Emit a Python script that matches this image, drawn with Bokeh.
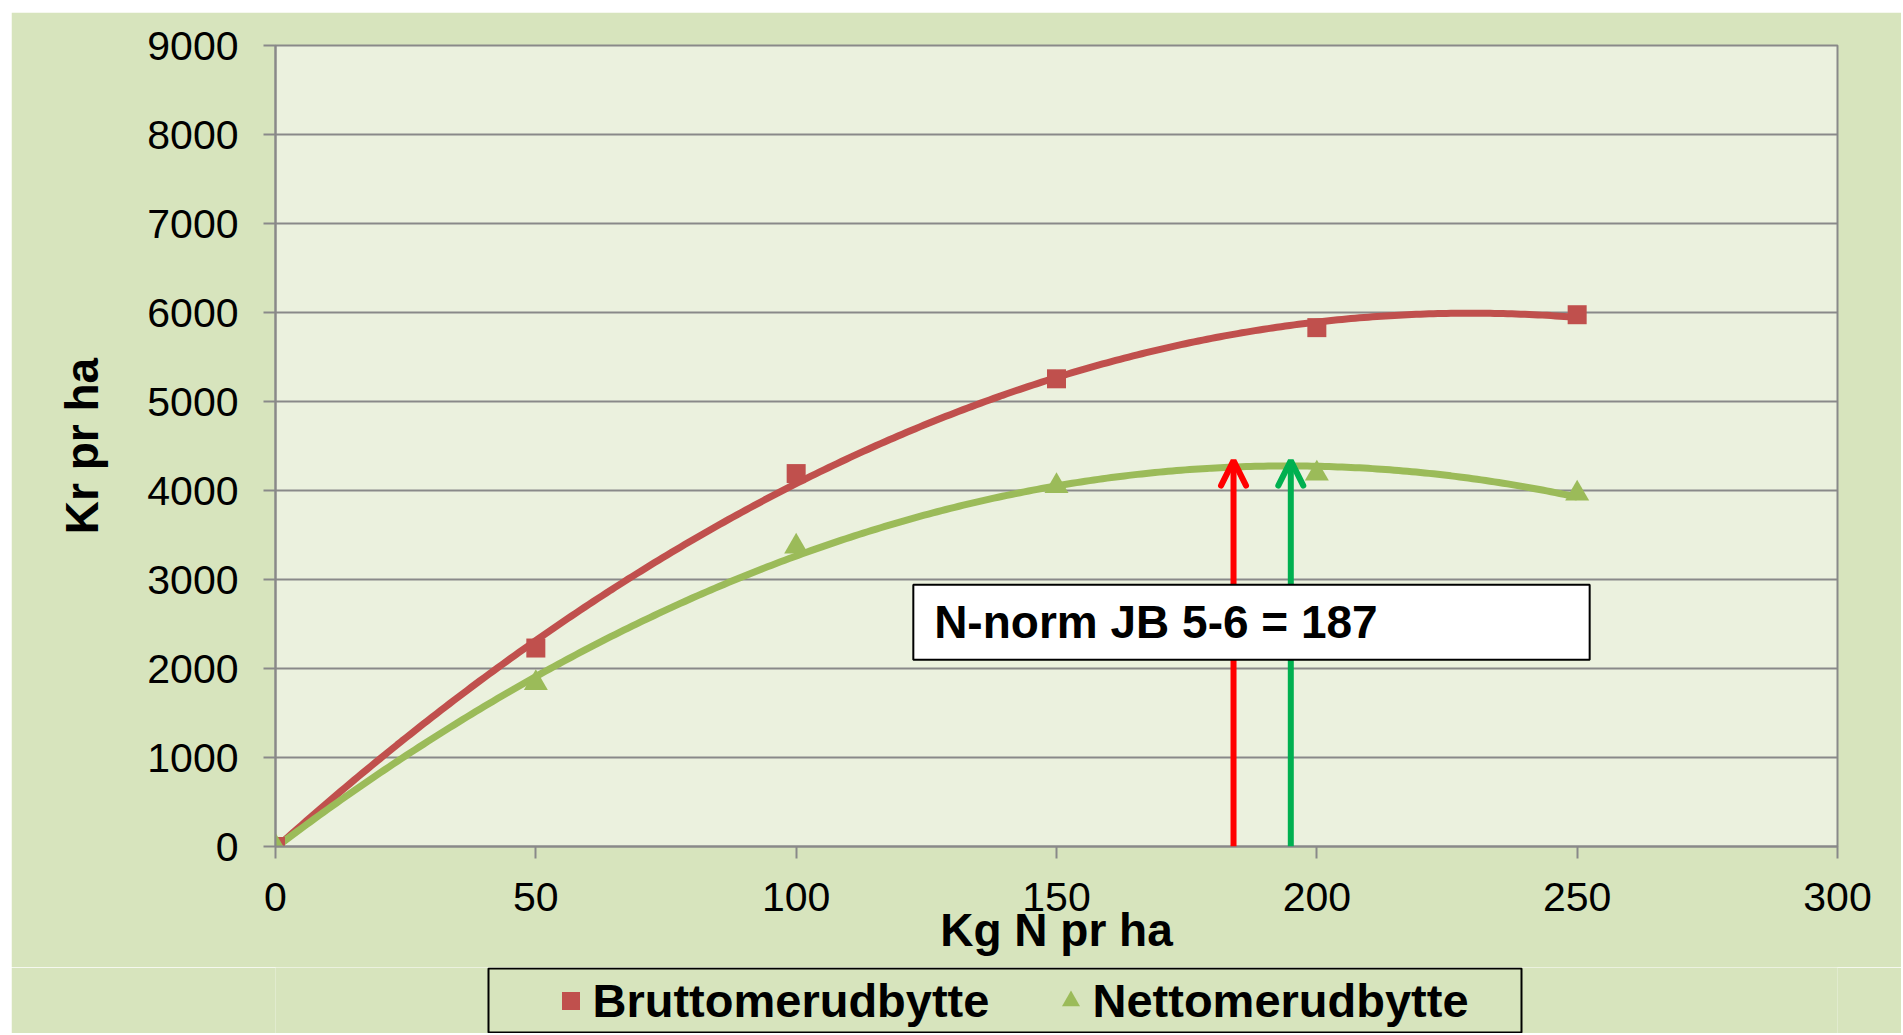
import numpy as np
from bokeh.plotting import figure
from bokeh.layouts import column
from bokeh.models import (ColumnDataSource, FixedTicker, Range1d, Legend, LegendItem,
                          Arrow, OpenHead, BoxAnnotation, Label)
from bokeh.embed import file_html
from bokeh.resources import INLINE

# ---------------- data ----------------
n_kg = [0, 50, 100, 150, 200, 250]                 # Kg N pr ha
brutto = [0, 2230, 4190, 5255, 5830, 5975]         # Bruttomerudbytte (Kr pr ha)
netto = [0, 1835, 3370, 4050, 4190, 3965]          # Nettomerudbytte (Kr pr ha)
series_names = ["Bruttomerudbytte", "Nettomerudbytte"]
x_ticks = [0, 50, 100, 150, 200, 250, 300]
y_ticks = [0, 1000, 2000, 3000, 4000, 5000, 6000, 7000, 8000, 9000]
optimum_n = [184, 195]          # arrows (red, green)
arrow_top = [4335, 4335]
annotation_text = "N-norm JB 5-6 = 187"
x_title = "Kg N pr ha"
y_title = "Kr pr ha"

# ---------------- styles ----------------
RED = "#C0504D"
GREEN = "#9BBB59"
ARROW_COLORS = ["#FF0000", "#00B050"]
OUTER = "#D7E4BD"
INNER = "#EBF1DE"
GRID = "#898989"
FONT = "Liberation Sans"

# polynomial (order 2) trendlines fitted to the data, like the spreadsheet trendline
fit_x = np.linspace(min(n_kg), max(n_kg), 300)
fit_b = np.polyval(np.polyfit(n_kg, brutto, 2), fit_x)
fit_n = np.polyval(np.polyfit(n_kg, netto, 2), fit_x)
trend = ColumnDataSource(dict(x=fit_x, b=fit_b, n=fit_n))
pts = ColumnDataSource(dict(x=n_kg, b=brutto, n=netto))

p = figure(width=1890, height=955, output_backend="svg", toolbar_location=None,
           x_range=Range1d(0, 300), y_range=Range1d(0, 9000),
           min_border_left=264, min_border_right=64, min_border_top=33, min_border_bottom=121,
           background_fill_color=INNER, border_fill_color=OUTER,
           outline_line_color=GRID, outline_line_width=2)
p.margin = (12, 0, 0, 11)

p.xaxis.ticker = FixedTicker(ticks=x_ticks)
p.yaxis.ticker = FixedTicker(ticks=y_ticks)
for ax in (p.xaxis[0], p.yaxis[0]):
    ax.axis_line_color = GRID
    ax.axis_line_width = 2
    ax.major_tick_line_color = GRID
    ax.major_tick_line_width = 2
    ax.major_tick_in = 0
    ax.major_tick_out = 12
    ax.minor_tick_line_color = None
    ax.major_label_text_font = FONT
    ax.major_label_text_font_size = "41px"
    ax.major_label_text_color = "black"
    ax.axis_label_text_font = FONT
    ax.axis_label_text_font_size = "46px"
    ax.axis_label_text_font_style = "bold"
    ax.axis_label_text_color = "black"
p.xaxis.axis_label = x_title
p.yaxis.axis_label = y_title
p.yaxis.major_label_standoff = 25
p.yaxis.axis_label_standoff = 36
p.xaxis.major_label_standoff = 24
p.xaxis.axis_label_standoff = -10
p.xgrid.grid_line_color = None
p.ygrid.grid_line_color = GRID
p.ygrid.grid_line_width = 2

p.line("x", "b", source=trend, line_color=RED, line_width=7)
p.line("x", "n", source=trend, line_color=GREEN, line_width=7)
p.scatter("x", "b", source=pts, marker="square", size=19, fill_color=RED, line_color=None)
p.scatter("x", "n", source=pts, marker="triangle", size=24, fill_color=GREEN, line_color=None)

for xo, yt, col in zip(optimum_n, arrow_top, ARROW_COLORS):
    p.add_layout(Arrow(end=OpenHead(size=25, line_color=col, line_width=6, line_cap="round"),
                       x_start=xo, y_start=0, x_end=xo, y_end=yt,
                       line_color=col, line_width=6))

p.add_layout(BoxAnnotation(left=122.5, right=252.4, top=2941, bottom=2098,
                           fill_color="white", fill_alpha=1,
                           line_color="black", line_width=2, line_alpha=1))
p.add_layout(Label(x=126.5, y=2526, text=annotation_text, text_font=FONT,
                   text_font_size="46px", text_font_style="bold",
                   text_baseline="middle", text_color="black"))

# ---- legend strip: own small figure (frame aligned with the chart frame);
#      its 1 unit = 1 px, the series renderers lie outside its view ----
lg = figure(width=1890, height=66, output_backend="svg", toolbar_location=None,
            x_range=Range1d(1000, 2562), y_range=Range1d(0, 66),
            x_axis_type=None, y_axis_type=None, min_border=0,
            background_fill_color=OUTER, border_fill_color=OUTER, outline_line_color=None)
lg.margin = (0, 0, 0, 11)
lg.xgrid.visible = False
lg.ygrid.visible = False
r1 = lg.scatter("x", "b", source=pts, marker="square", size=19, fill_color=RED, line_color=None)
r2 = lg.scatter("x", "n", source=pts, marker="triangle", size=24, fill_color=GREEN, line_color=None)

lg.add_layout(BoxAnnotation(left=1213, right=2246, bottom=1, top=65,
                            fill_color=OUTER, fill_alpha=1,
                            line_color="black", line_width=2, line_alpha=1))

legend = Legend(items=[LegendItem(label=series_names[0], renderers=[r1]),
                       LegendItem(label=series_names[1], renderers=[r2])],
                orientation="horizontal", location=(272.5, 5),
                glyph_width=45, glyph_height=45, label_standoff=0,
                spacing=35, label_width=420, padding=7, margin=0,
                background_fill_alpha=0, border_line_color=None,
                label_text_font=FONT, label_text_font_size="47px",
                label_text_font_style="bold", label_text_color="black")
lg.add_layout(legend)

layout = column(p, lg, spacing=0)
open("out.html", "w").write(file_html(layout, INLINE))
